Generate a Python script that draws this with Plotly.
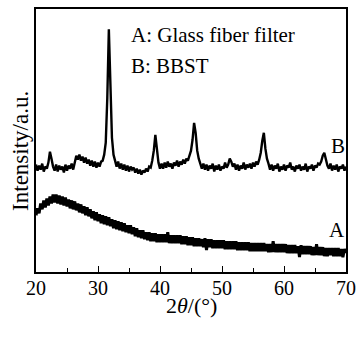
import plotly.graph_objects as go

# 2theta scan grid (degrees), 0.25 deg step
two_theta = [20 + 0.25 * i for i in range(201)]

# Curve B: BBST (intensity, a.u., offset)
b_int = [
    108, 102, 107, 103, 109, 101, 106, 104,
    110, 121, 114, 106,
    102, 108, 101, 107, 103, 106, 100, 108, 102, 107, 104, 109, 103,
    111, 117, 113, 118, 112, 116, 110, 115, 109, 113, 107, 112, 106, 111, 105, 110, 106, 111, 112,
    118, 130, 175, 244, 190, 135, 118, 112,
    106, 111, 104, 109, 103, 108, 102, 107, 101, 106, 103, 105, 100, 104, 99, 103, 98, 102, 100, 104,
    101, 106, 105, 112, 122, 138, 121, 110, 104,
    109, 104, 110, 105, 111, 106, 109, 104, 110, 107, 112, 106, 111, 108, 113, 109,
    114, 112, 118, 122, 133, 150, 140, 122, 114, 108,
    104, 109, 103, 108, 102, 107, 104, 109, 101, 107, 103, 108, 102, 106, 104, 110, 105,
    108, 114, 111, 106,
    109, 103, 108, 102, 107, 104, 110, 103, 108, 105, 109, 104, 110, 106, 111, 108,
    113, 120, 132, 140, 124, 114, 109,
    103, 108, 102, 107, 104, 109, 101, 106, 103, 108, 102, 107, 105, 110, 103, 106, 101, 107,
    104, 108, 102, 106, 103, 109, 101, 106, 104, 108, 102, 107, 105, 109, 108,
    111, 117, 120, 113, 107,
    104, 109, 102, 107, 103, 108, 101, 106, 104, 108, 102, 106,
]

# Curve A: glass fiber filter (intensity, a.u.)
a_int = [
    57, 64, 59, 69, 63, 72, 65, 74, 67, 76, 69, 78, 70, 78, 69, 77,
    68, 76, 67, 75, 66, 73, 64, 72, 63, 71, 62, 69, 60, 68, 59, 66,
    57, 65, 56, 63, 54, 61, 52, 60, 51, 58, 49, 57, 48, 56, 47, 55,
    46, 53, 44, 52, 43, 51, 42, 50, 41, 49, 40, 47, 39, 47, 38, 45,
    36, 44, 35, 42, 34, 42, 33, 40, 32, 40, 31, 39, 31, 39, 30, 38,
    30, 38, 30, 38, 30, 40, 29, 37, 29, 37, 29, 37, 29, 37, 28, 36,
    28, 36, 27, 35, 27, 35, 26, 34, 26, 34, 26, 33, 25, 34, 22, 33,
    25, 33, 24, 32, 24, 32, 24, 32, 24, 32, 23, 31, 23, 31, 23, 31,
    23, 31, 22, 30, 22, 30, 22, 30, 22, 30, 21, 29, 21, 29, 21, 29,
    21, 29, 21, 29, 21, 28, 20, 28, 20, 31, 20, 28, 20, 28, 20, 28,
    20, 28, 19, 27, 19, 27, 19, 27, 19, 26, 15, 27, 18, 26, 18, 26,
    18, 26, 17, 25, 17, 28, 17, 25, 17, 25, 16, 24, 16, 24, 17, 24,
    16, 24, 16, 24, 16, 23, 15, 23, 19,
]

x_ticks = [20, 30, 40, 50, 60, 70]
legend_lines = ["A: Glass fiber filter", "B: BBST"]
curve_labels = ["A", "B"]

FONT = "Liberation Serif"

fig = go.Figure()
fig.add_trace(go.Scatter(x=two_theta, y=a_int, mode="lines",
                         line=dict(color="black", width=3), showlegend=False))
fig.add_trace(go.Scatter(x=two_theta, y=b_int, mode="lines",
                         line=dict(color="black", width=2.4), showlegend=False))

annotations = [
    dict(text=legend_lines[0], x=35.0, y=0.90, xref="x", yref="paper",
         xanchor="left", yanchor="middle", showarrow=False,
         font=dict(family=FONT, size=21, color="black")),
    dict(text=legend_lines[1], x=35.0, y=0.783, xref="x", yref="paper",
         xanchor="left", yanchor="middle", showarrow=False,
         font=dict(family=FONT, size=21, color="black")),
    dict(text=curve_labels[1], x=1.004, y=0.48, xref="paper", yref="paper",
         xanchor="right", yanchor="middle", showarrow=False,
         font=dict(family=FONT, size=21, color="black")),
    dict(text=curve_labels[0], x=1.004, y=0.16, xref="paper", yref="paper",
         xanchor="right", yanchor="middle", showarrow=False,
         font=dict(family=FONT, size=21, color="black")),
    dict(text="Intensity/a.u.", x=-0.052, y=0.46, xref="paper", yref="paper",
         xanchor="center", yanchor="middle", textangle=-90, showarrow=False,
         font=dict(family=FONT, size=23, color="black")),
    dict(text="2<i>θ</i>/(°)", x=0.5, y=-0.128, xref="paper", yref="paper",
         xanchor="center", yanchor="middle", showarrow=False,
         font=dict(family=FONT, size=22, color="black")),
]

fig.update_layout(
    width=363, height=338,
    margin=dict(l=36, r=11, t=7, b=66),
    paper_bgcolor="white", plot_bgcolor="white",
    font=dict(family=FONT, size=20, color="black"),
    annotations=annotations,
    xaxis=dict(range=[20, 70], tickvals=x_ticks, ticks="inside", ticklen=6,
               tickwidth=1.2, tickcolor="black", ticklabelstandoff=-3,
               minor=dict(dtick=5, tick0=20, ticks="inside", ticklen=4,
                          tickwidth=1.2, tickcolor="black"),
               showline=True, linecolor="black", linewidth=1.6, mirror=True,
               showgrid=False, zeroline=False,
               tickfont=dict(family=FONT, size=20, color="black")),
    yaxis=dict(range=[0, 264.5], showticklabels=False, ticks="",
               showline=True, linecolor="black", linewidth=1.6, mirror=True,
               showgrid=False, zeroline=False),
)

fig.write_html("out.html")
